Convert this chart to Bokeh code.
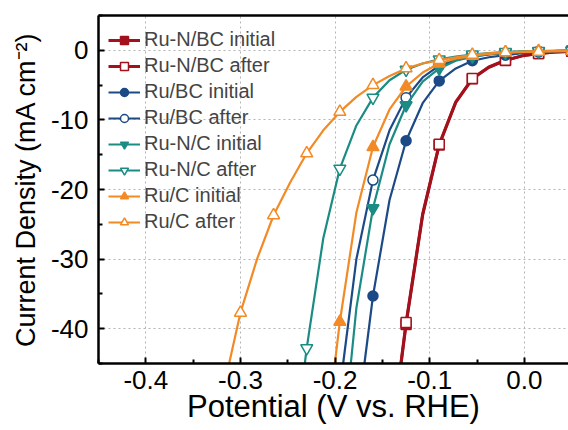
from bokeh.plotting import figure
from bokeh.models import Legend, LegendItem, LinearAxis, FixedTicker, Range1d
from bokeh.embed import file_html
from bokeh.resources import INLINE

# ---------------- data ----------------
# potential grid (V vs. RHE); markers sit on every second grid point
POT = [0.05, 0.0325, 0.015, -0.0025, -0.02, -0.0375, -0.055, -0.0725, -0.09,
       -0.1075, -0.125, -0.1425, -0.16, -0.1775, -0.195, -0.2125, -0.23,
       -0.2475, -0.265, -0.2825, -0.30]

J_RUNBC_INIT = [-0.15, -0.25, -0.45, -0.8, -1.45, -2.45, -4.1, -7.5, -13.6, -23.7, -39.4]
J_RUNBC_AFTER = [-0.15, -0.25, -0.45, -0.8, -1.43, -2.4, -4.06, -7.4, -13.5, -23.5, -39.1]
J_RUBC_INIT = [-0.1, -0.15, -0.25, -0.4, -0.7, -1.0, -1.5, -2.6, -4.4, -7.6, -13.0, -21.5, -35.3]
J_RUBC_AFTER = [-0.05, -0.1, -0.15, -0.25, -0.4, -0.6, -0.9, -1.4, -2.2, -3.9, -6.8, -11.5, -18.65, -30.0]
J_RUNC_INIT = [-0.05, -0.08, -0.12, -0.2, -0.35, -0.55, -0.9, -1.5, -2.6, -4.5, -7.9, -13.5, -22.7, -37.0]
J_RUNC_AFTER = [-0.05, -0.08, -0.1, -0.15, -0.25, -0.4, -0.6, -0.9, -1.3, -1.9, -2.8, -4.3, -6.8,
                -10.8, -17.0, -27.0, -42.8]
J_RUC_INIT = [-0.05, -0.08, -0.12, -0.2, -0.3, -0.5, -0.8, -1.2, -1.9, -3.2, -5.2, -8.5, -13.9, -23.3, -39.0]
J_RUC_AFTER = [-0.1, -0.15, -0.2, -0.25, -0.3, -0.45, -0.65, -1.0, -1.4, -1.9, -2.6, -3.7, -5.0, -6.7,
               -8.85, -11.5, -14.8, -19.0, -23.7, -30.0, -37.7]

# potential where each curve leaves the bottom of the plot (j = -45)
END_POT = [-0.1303, -0.1305, -0.169, -0.1915, -0.1834, -0.232, -0.2003, -0.312]
END_J = -45.0

LABELS = ["Ru-N/BC initial", "Ru-N/BC after", "Ru/BC initial", "Ru/BC after",
          "Ru-N/C initial", "Ru-N/C after", "Ru/C initial", "Ru/C after"]
SERIES = [J_RUNBC_INIT, J_RUNBC_AFTER, J_RUBC_INIT, J_RUBC_AFTER,
          J_RUNC_INIT, J_RUNC_AFTER, J_RUC_INIT, J_RUC_AFTER]

X_TICKS = [-0.4, -0.3, -0.2, -0.1, 0.0]
X_TICK_LABELS = ["-0.4", "-0.3", "-0.2", "-0.1", "0.0"]
X_MINOR = [-0.45, -0.35, -0.25, -0.15, -0.05]
Y_TICKS = [0, -10, -20, -30, -40]
Y_TICK_LABELS = ["0", "-10", "-20", "-30", "-40"]
Y_MINOR = [5, -5, -15, -25, -35, -45]

# ---------------- styles ----------------
RED, BLUE, TEAL, ORANGE = "#A3121C", "#1C4A86", "#1A8C84", "#F28A26"
COLORS = [RED, RED, BLUE, BLUE, TEAL, TEAL, ORANGE, ORANGE]
MARKERS = ["square", "square", "circle", "circle",
           "inverted_triangle", "inverted_triangle", "triangle", "triangle"]
SIZES = [10, 10, 10, 10, 12, 12, 12, 12]
FILLED = [True, False, True, False, True, False, True, False]
WIDTHS = [3, 3, 2.2, 2.2, 2.2, 2.2, 2.2, 2.2]
FONT = "Liberation Sans"

p = figure(width=568, height=430, frame_width=470, frame_height=348,
           output_backend="svg", toolbar_location=None,
           x_range=Range1d(-0.45, 0.0466), y_range=Range1d(-45, 5),
           min_border_left=98, min_border_right=0, min_border_top=15, min_border_bottom=67,
           background_fill_color="white", border_fill_color="white")
p.outline_line_color = None

xt = FixedTicker(ticks=X_TICKS, minor_ticks=X_MINOR)
yt = FixedTicker(ticks=Y_TICKS, minor_ticks=Y_MINOR)
p.xaxis.ticker = xt
p.yaxis.ticker = yt
p.xaxis.major_label_overrides = {t: s for t, s in zip(X_TICKS, X_TICK_LABELS)}
p.yaxis.major_label_overrides = {t: s for t, s in zip(Y_TICKS, Y_TICK_LABELS)}
p.xgrid.ticker = xt
p.ygrid.ticker = yt
for g in (p.xgrid, p.ygrid):
    g.grid_line_color = "#b4b4b4"
    g.grid_line_dash = "2 3"
    g.grid_line_width = 1

for ax in (p.xaxis, p.yaxis):
    ax.axis_line_width = 2.5
    ax.axis_line_color = "black"
    ax.major_tick_in = 6
    ax.major_tick_out = 0
    ax.minor_tick_in = 4
    ax.minor_tick_out = 0
    ax.major_tick_line_width = 2
    ax.minor_tick_line_width = 2
    ax.major_label_text_font = FONT
    ax.major_label_text_font_size = "26px"
    ax.major_label_text_color = "black"
    ax.axis_label_text_font = FONT
    ax.axis_label_text_font_style = "normal"
    ax.axis_label_text_color = "black"
p.xaxis.axis_label_text_font_size = "31px"
p.yaxis.axis_label_text_font_size = "27px"
p.xaxis.major_label_standoff = 7
p.yaxis.major_label_standoff = 10
p.xaxis.axis_label_standoff = -3
p.yaxis.axis_label_standoff = 7
p.xaxis.axis_label = "Potential (V vs. RHE)"
p.yaxis.axis_label = "Current Density (mA cm\u207b\u00b2)"

top = LinearAxis(ticker=FixedTicker(ticks=[]), axis_line_width=2.5, axis_line_color="black",
                 major_tick_line_color=None, minor_tick_line_color=None,
                 major_label_text_font_size="0px")
p.add_layout(top, "above")

items = []
for i in range(len(SERIES)):
    js = SERIES[i]
    n = len(js)
    xs = POT[:n] + [END_POT[i]]
    ys = js + [END_J]
    c = COLORS[i]
    lr = p.line(xs, ys, line_color=c, line_width=WIDTHS[i])
    mx = POT[:n:2]
    my = js[::2]
    sr = p.scatter(mx, my, marker=MARKERS[i], size=SIZES[i], line_color=c,
                   fill_color=c if FILLED[i] else "white", line_width=1.5)
    items.append(LegendItem(label=LABELS[i], renderers=[lr, sr]))

legend = Legend(items=items, location=(10, 130), orientation="vertical",
                border_line_color=None, background_fill_alpha=0,
                label_text_font=FONT, label_text_font_size="20px",
                glyph_width=32, glyph_height=20, label_height=20,
                label_standoff=4, padding=0, spacing=3, margin=0)
p.add_layout(legend)

open("out.html", "w").write(file_html(p, INLINE))
